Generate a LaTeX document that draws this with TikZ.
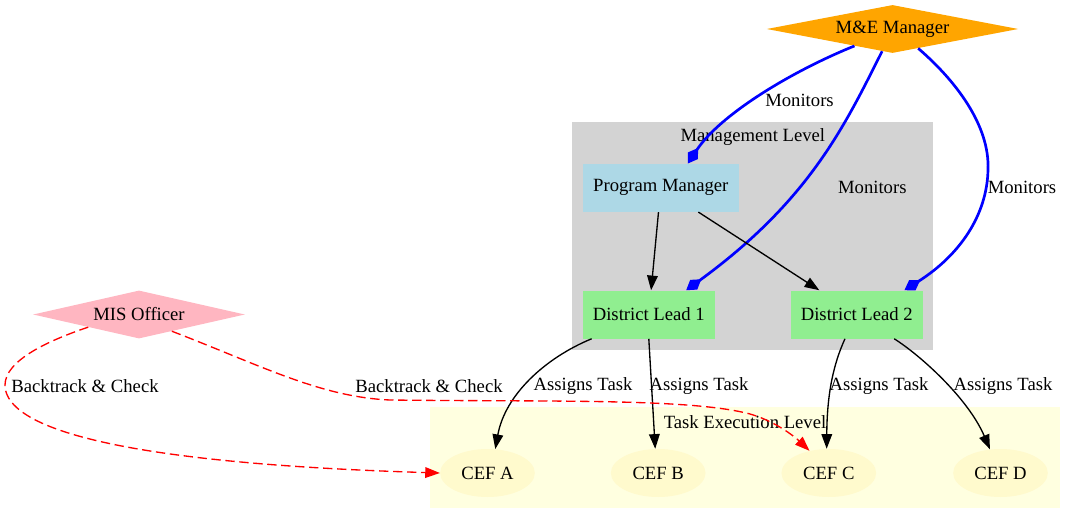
\documentclass[tikz,border=0pt]{standalone}
\usepackage{fontspec}
\setmainfont{Liberation Serif}
\usepackage{xcolor}
\usetikzlibrary{arrows.meta}
\usetikzlibrary{positioning,shapes.geometric}
\definecolor{mgmtgray}{HTML}{D3D3D3}
\definecolor{taskyellow}{HTML}{FFFFE0}
\definecolor{pmblue}{HTML}{ADD8E6}
\definecolor{leadgreen}{HTML}{90EE90}
\definecolor{mneorange}{HTML}{FFA500}
\definecolor{mispink}{HTML}{FFB6C1}
\definecolor{cefchiffon}{HTML}{FFFACD}

\begin{document}
\begin{tikzpicture}[x=0.75pt,y=-0.75pt,
    every node/.style={font=\fontsize{14}{16}\selectfont},
    rolebox/.style={rectangle,inner sep=0pt,minimum height=36pt},
    rolediamond/.style={diamond,aspect=5,inner sep=0pt,minimum height=36pt},
    cefnode/.style={ellipse,fill=cefchiffon,inner sep=0pt,minimum width=71pt,minimum height=36pt},
    monitor/.style={draw=blue,line width=2pt,-{Diamond[length=14pt,width=9pt]}},
    assign/.style={draw=black,line width=1pt,-{Triangle[length=11pt,width=8pt]}},
    backtrack/.style={draw=red,line width=1pt,dash pattern=on 7pt off 3.5pt,-{Triangle[length=11pt,width=8pt]}}]
      \useasboundingbox (0,0) rectangle (1075,524);
      \fill[mgmtgray] (572.3,122.3) rectangle (933.3,350);
      \fill[taskyellow] (430,407.3) rectangle (1059.7,508.3);
      \node[] (mgmtlabel) at (752.8,136.7) {Management Level};
      \node[] (tasklabel) at (745,421.7) {Task Execution Level};
      \node[rolediamond,fill=mneorange,minimum width=188.7pt] (mne) at (892.5,29) {M\&E Manager};
      \node[rolebox,fill=pmblue,minimum width=117pt] (progman) at (660.8,187.8) {Program Manager};
      \node[rolebox,fill=leadgreen,minimum width=99pt] (lead1) at (648.8,314.5) {District Lead 1};
      \node[rolebox,fill=leadgreen,minimum width=99pt] (lead2) at (856.8,314.5) {District Lead 2};
      \node[rolediamond,fill=mispink,minimum width=158.8pt] (mis) at (139,314.5) {MIS Officer};
      \node[cefnode] (cefA) at (487.5,473) {CEF A};
      \node[cefnode] (cefB) at (658.2,473) {CEF B};
      \node[cefnode] (cefC) at (828.8,473) {CEF C};
      \node[cefnode] (cefD) at (1000.5,473) {CEF D};
      \draw[monitor] (mne.204) .. controls (790,72) and (720,115) .. (progman.42);
      \node[] (monA) at (799.5,100.7) {Monitors};
      \draw[monitor] (mne.-115) .. controls (845,125) and (810,200) .. (lead1.33);
      \node[] (monB) at (872.3,187) {Monitors};
      \draw[monitor] (mne.-37) .. controls (955,80) and (990,125) .. (988,170)
            .. controls (987,215) and (960,255) .. (lead2.27);
      \node[] (monC) at (1022,187) {Monitors};
      \draw[assign] (progman) -- (lead1);
      \draw[assign] (progman) -- (lead2);
      \draw[assign] (lead1.203) .. controls (545,358) and (505,395) .. (cefA.72);
      \node[] (asgA) at (583,386) {Assigns Task};
      \draw[assign] (lead1.south) -- (cefB.97);
      \node[] (asgB) at (699,386) {Assigns Task};
      \draw[assign] (lead2.-116) .. controls (833,365) and (827,395) .. (cefC.95);
      \node[] (asgC) at (879,386) {Assigns Task};
      \draw[assign] (lead2.-33) .. controls (920,355) and (968,398) .. (cefD.114);
      \node[] (asgD) at (1003,386) {Assigns Task};
      \draw[backtrack] (mis.194) .. controls (50,340) and (5,360) .. (5,385)
            .. controls (5,420) and (80,462) .. (cefA.west);
      \node[] (btA) at (85,386) {Backtrack \& Check};
      \draw[backtrack] (mis.-27) .. controls (260,365) and (320,397) .. (390,400)
            .. controls (550,402) and (690,398) .. (750,414)
            .. controls (775,421) and (795,437) .. (cefC.131);
      \node[] (btC) at (429,386) {Backtrack \& Check};
    \end{tikzpicture}
\end{document}
